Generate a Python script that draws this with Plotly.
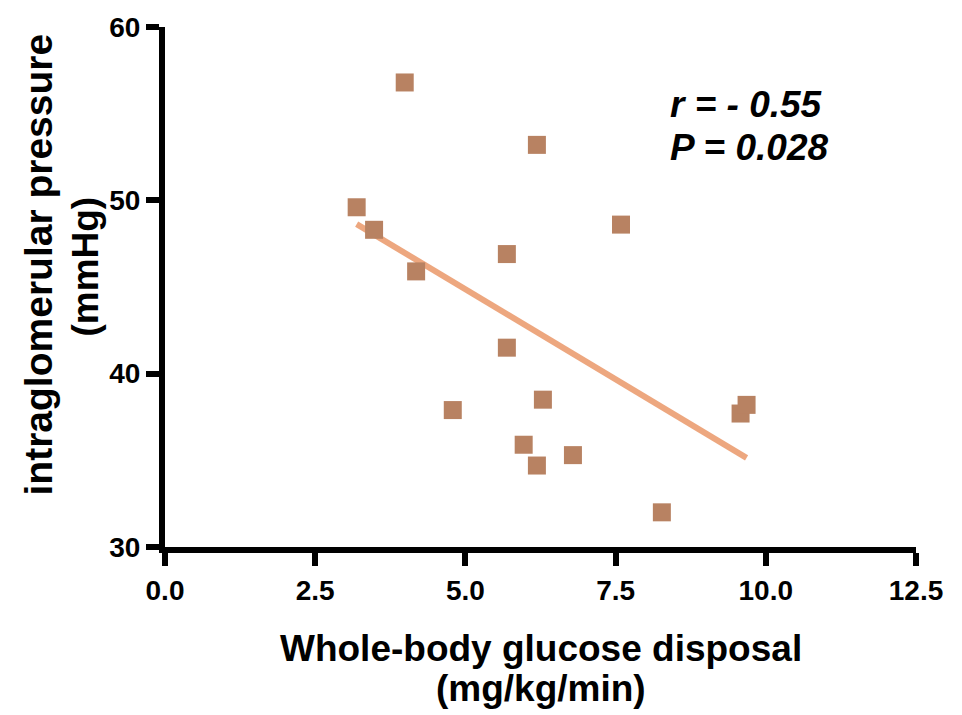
import plotly.graph_objects as go

glucose_disposal = [3.99, 3.19, 3.48, 4.18, 6.19, 5.69, 7.59, 5.69, 4.79, 6.29, 5.97, 6.19, 6.79, 8.27, 9.58, 9.68]
glom_pressure = [56.8, 49.6, 48.3, 45.9, 53.2, 46.9, 48.6, 41.5, 37.9, 38.5, 35.9, 34.7, 35.3, 32.0, 37.7, 38.2]
fit_x = [3.19, 9.68]
fit_y = [48.63, 35.14]
x_ticks = [0.0, 2.5, 5.0, 7.5, 10.0, 12.5]
x_tick_labels = ["0.0", "2.5", "5.0", "7.5", "10.0", "12.5"]
y_ticks = [30, 40, 50, 60]

FONT = "Liberation Sans, Arial, sans-serif"

fig = go.Figure()
fig.add_trace(go.Scatter(x=fit_x, y=fit_y, mode="lines",
                         line=dict(color="#eda77f", width=6), showlegend=False, hoverinfo="skip"))
fig.add_trace(go.Scatter(x=glucose_disposal, y=glom_pressure, mode="markers",
                         marker=dict(symbol="square", size=18, color="#b88262", line=dict(width=0)),
                         showlegend=False))

axis_common = dict(showline=True, linecolor="black", linewidth=6, ticks="outside", ticklen=13,
                   tickwidth=6, tickcolor="black", showgrid=False, zeroline=False,
                   tickfont=dict(family=FONT, size=28, color="black", weight="bold"))

fig.update_xaxes(range=[0, 12.5], tickvals=x_ticks, ticktext=x_tick_labels, **axis_common)
fig.update_yaxes(range=[30, 60], tickvals=y_ticks, **axis_common)

def ann(text, x, y, size, angle=0, xanchor="center"):
    return dict(text=text, x=x, y=y, xref="paper", yref="paper", xanchor=xanchor,
                yanchor="middle", showarrow=False, textangle=angle,
                font=dict(family=FONT, size=size, color="black"))

fig.update_layout(
    width=962, height=715,
    margin=dict(l=165, r=46, t=22, b=168),
    plot_bgcolor="white", paper_bgcolor="white",
    annotations=[
        ann("<b><i>r = - 0.55</i></b>", 0.67, 0.851, 37, xanchor="left"),
        ann("<b><i>P = 0.028</i></b>", 0.67, 0.768, 37, xanchor="left"),
        ann("<b>Whole-body glucose disposal</b>", 0.5, -0.196, 37),
        ann("<b>(mg/kg/min)</b>", 0.5, -0.272, 37),
        ann("<b>intraglomerular pressure</b>", -0.168, 0.543, 39, angle=-90),
        ann("<b>(mmHg)</b>", -0.106, 0.54, 37, angle=-90),
    ],
)

fig.write_html("out.html")
